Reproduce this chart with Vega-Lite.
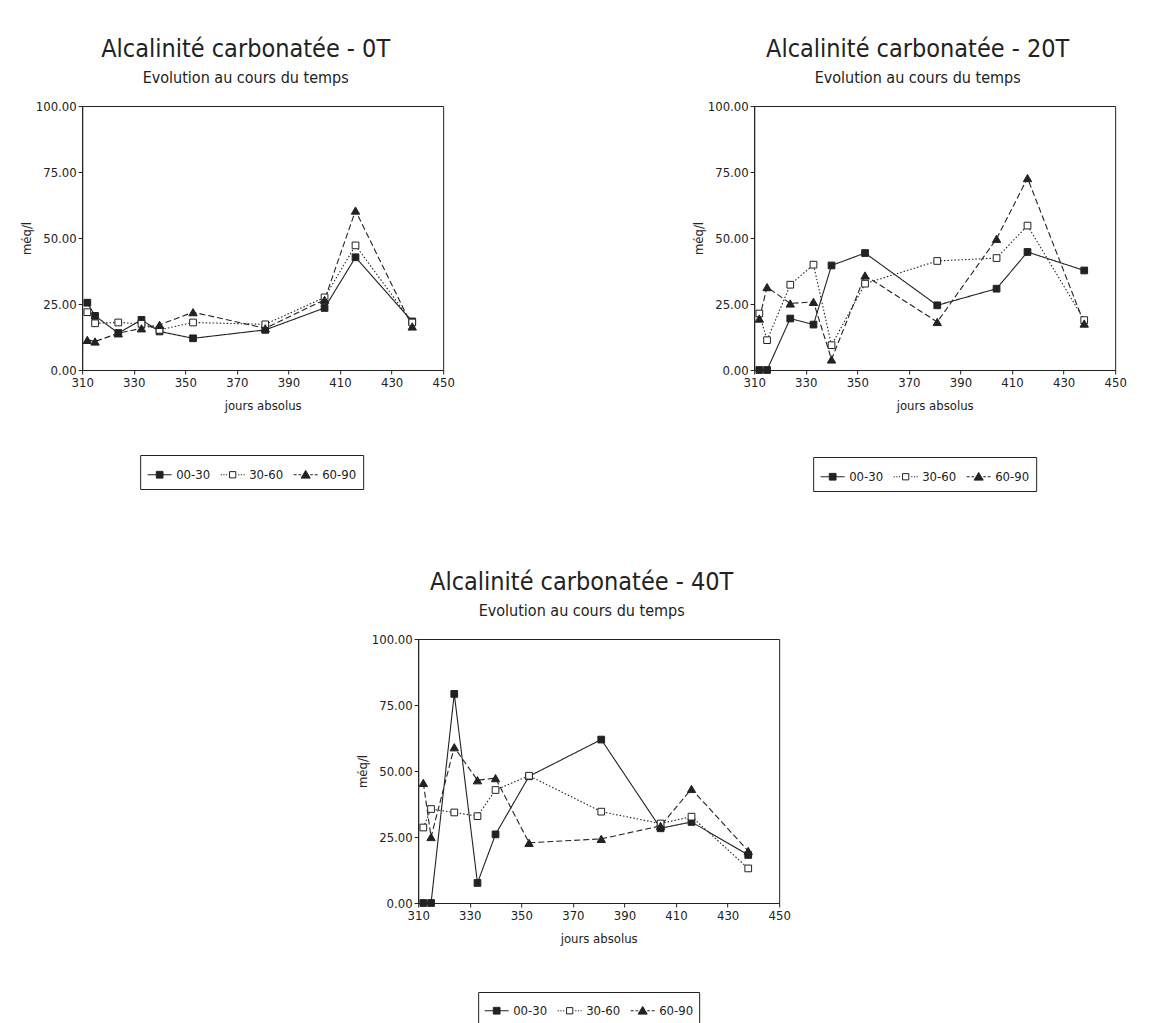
{
  "$schema": "https://vega.github.io/schema/vega-lite/v6.json",
  "background": "white",
  "padding": {"left": 19, "top": 36, "right": 5, "bottom": 0},
  "config": {
    "font": "DejaVu Sans Condensed, Liberation Sans, sans-serif",
    "view": {"stroke": "#222", "strokeWidth": 1},
    "axis": {"domainColor": "#222", "tickColor": "#222", "labelColor": "#222", "titleColor": "#222", "grid": false, "labelFontSize": 13, "titleFontSize": 13, "titleFontWeight": "normal", "tickSize": 4},
    "title": {"fontSize": 25, "fontWeight": "normal", "color": "#222", "subtitleFontSize": 16, "subtitleColor": "#222", "subtitlePadding": 8, "anchor": "middle", "offset": 14, "dx": -17},
    "legend": {"labelFontSize": 13, "labelColor": "#222", "symbolStrokeWidth": 1}
  },
  "data": {"values": [
    {"panel": "0T", "prof": "00-30", "jour": 312, "val": 25.5},
    {"panel": "0T", "prof": "00-30", "jour": 315, "val": 20.5},
    {"panel": "0T", "prof": "00-30", "jour": 324, "val": 14},
    {"panel": "0T", "prof": "00-30", "jour": 333, "val": 19},
    {"panel": "0T", "prof": "00-30", "jour": 340, "val": 14.6},
    {"panel": "0T", "prof": "00-30", "jour": 353, "val": 12},
    {"panel": "0T", "prof": "00-30", "jour": 381, "val": 15.2},
    {"panel": "0T", "prof": "00-30", "jour": 404, "val": 23.5},
    {"panel": "0T", "prof": "00-30", "jour": 416, "val": 42.7},
    {"panel": "0T", "prof": "00-30", "jour": 438, "val": 18.4},
    {"panel": "0T", "prof": "30-60", "jour": 312, "val": 21.9},
    {"panel": "0T", "prof": "30-60", "jour": 315, "val": 17.7},
    {"panel": "0T", "prof": "30-60", "jour": 324, "val": 18},
    {"panel": "0T", "prof": "30-60", "jour": 333, "val": 17.5},
    {"panel": "0T", "prof": "30-60", "jour": 340, "val": 15.2},
    {"panel": "0T", "prof": "30-60", "jour": 353, "val": 18},
    {"panel": "0T", "prof": "30-60", "jour": 381, "val": 17.3},
    {"panel": "0T", "prof": "30-60", "jour": 404, "val": 27.5},
    {"panel": "0T", "prof": "30-60", "jour": 416, "val": 47.2},
    {"panel": "0T", "prof": "30-60", "jour": 438, "val": 18},
    {"panel": "0T", "prof": "60-90", "jour": 312, "val": 11.4},
    {"panel": "0T", "prof": "60-90", "jour": 315, "val": 10.8},
    {"panel": "0T", "prof": "60-90", "jour": 324, "val": 13.9},
    {"panel": "0T", "prof": "60-90", "jour": 333, "val": 15.8},
    {"panel": "0T", "prof": "60-90", "jour": 340, "val": 17.1},
    {"panel": "0T", "prof": "60-90", "jour": 353, "val": 21.9},
    {"panel": "0T", "prof": "60-90", "jour": 381, "val": 15.8},
    {"panel": "0T", "prof": "60-90", "jour": 404, "val": 26.6},
    {"panel": "0T", "prof": "60-90", "jour": 416, "val": 60.4},
    {"panel": "0T", "prof": "60-90", "jour": 438, "val": 16.5},
    {"panel": "20T", "prof": "00-30", "jour": 312, "val": 0},
    {"panel": "20T", "prof": "00-30", "jour": 315, "val": 0},
    {"panel": "20T", "prof": "00-30", "jour": 324, "val": 19.5},
    {"panel": "20T", "prof": "00-30", "jour": 333, "val": 17.2},
    {"panel": "20T", "prof": "00-30", "jour": 340, "val": 39.6},
    {"panel": "20T", "prof": "00-30", "jour": 353, "val": 44.3},
    {"panel": "20T", "prof": "00-30", "jour": 381, "val": 24.5},
    {"panel": "20T", "prof": "00-30", "jour": 404, "val": 30.8},
    {"panel": "20T", "prof": "00-30", "jour": 416, "val": 44.7},
    {"panel": "20T", "prof": "00-30", "jour": 438, "val": 37.7},
    {"panel": "20T", "prof": "30-60", "jour": 312, "val": 21.4},
    {"panel": "20T", "prof": "30-60", "jour": 315, "val": 11.3},
    {"panel": "20T", "prof": "30-60", "jour": 324, "val": 32.3},
    {"panel": "20T", "prof": "30-60", "jour": 333, "val": 39.9},
    {"panel": "20T", "prof": "30-60", "jour": 340, "val": 9.4},
    {"panel": "20T", "prof": "30-60", "jour": 353, "val": 32.7},
    {"panel": "20T", "prof": "30-60", "jour": 381, "val": 41.3},
    {"panel": "20T", "prof": "30-60", "jour": 404, "val": 42.4},
    {"panel": "20T", "prof": "30-60", "jour": 416, "val": 54.7},
    {"panel": "20T", "prof": "30-60", "jour": 438, "val": 18.9},
    {"panel": "20T", "prof": "60-90", "jour": 312, "val": 19.5},
    {"panel": "20T", "prof": "60-90", "jour": 315, "val": 31.4},
    {"panel": "20T", "prof": "60-90", "jour": 324, "val": 25.2},
    {"panel": "20T", "prof": "60-90", "jour": 333, "val": 25.8},
    {"panel": "20T", "prof": "60-90", "jour": 340, "val": 4},
    {"panel": "20T", "prof": "60-90", "jour": 353, "val": 35.8},
    {"panel": "20T", "prof": "60-90", "jour": 381, "val": 18.2},
    {"panel": "20T", "prof": "60-90", "jour": 404, "val": 49.7},
    {"panel": "20T", "prof": "60-90", "jour": 416, "val": 72.7},
    {"panel": "20T", "prof": "60-90", "jour": 438, "val": 17.6},
    {"panel": "40T", "prof": "00-30", "jour": 312, "val": 0},
    {"panel": "40T", "prof": "00-30", "jour": 315, "val": 0},
    {"panel": "40T", "prof": "00-30", "jour": 324, "val": 79.2},
    {"panel": "40T", "prof": "00-30", "jour": 333, "val": 7.6},
    {"panel": "40T", "prof": "00-30", "jour": 340, "val": 26},
    {"panel": "40T", "prof": "00-30", "jour": 353, "val": 48},
    {"panel": "40T", "prof": "00-30", "jour": 381, "val": 61.9},
    {"panel": "40T", "prof": "00-30", "jour": 404, "val": 28.3},
    {"panel": "40T", "prof": "00-30", "jour": 416, "val": 30.7},
    {"panel": "40T", "prof": "00-30", "jour": 438, "val": 18.2},
    {"panel": "40T", "prof": "30-60", "jour": 312, "val": 28.6},
    {"panel": "40T", "prof": "30-60", "jour": 315, "val": 35.6},
    {"panel": "40T", "prof": "30-60", "jour": 324, "val": 34.3},
    {"panel": "40T", "prof": "30-60", "jour": 333, "val": 32.9},
    {"panel": "40T", "prof": "30-60", "jour": 340, "val": 42.8},
    {"panel": "40T", "prof": "30-60", "jour": 353, "val": 48.2},
    {"panel": "40T", "prof": "30-60", "jour": 381, "val": 34.6},
    {"panel": "40T", "prof": "30-60", "jour": 404, "val": 30.1},
    {"panel": "40T", "prof": "30-60", "jour": 416, "val": 32.7},
    {"panel": "40T", "prof": "30-60", "jour": 438, "val": 13.1},
    {"panel": "40T", "prof": "60-90", "jour": 312, "val": 45.5},
    {"panel": "40T", "prof": "60-90", "jour": 315, "val": 25},
    {"panel": "40T", "prof": "60-90", "jour": 324, "val": 59},
    {"panel": "40T", "prof": "60-90", "jour": 333, "val": 46.5},
    {"panel": "40T", "prof": "60-90", "jour": 340, "val": 47.3},
    {"panel": "40T", "prof": "60-90", "jour": 353, "val": 22.8},
    {"panel": "40T", "prof": "60-90", "jour": 381, "val": 24.3},
    {"panel": "40T", "prof": "60-90", "jour": 404, "val": 29.2},
    {"panel": "40T", "prof": "60-90", "jour": 416, "val": 43.2},
    {"panel": "40T", "prof": "60-90", "jour": 438, "val": 19.7}
  ]},
  "spacing": 77,
  "center": true,
  "resolve": {"scale": {"x": "independent", "y": "independent", "shape": "independent", "fill": "independent", "stroke": "independent"}, "legend": {"shape": "independent", "fill": "independent", "stroke": "independent"}},
  "vconcat": [
    {
      "hconcat": [
        {
          "title": {"text": "Alcalinité carbonatée - 0T", "subtitle": "Evolution au cours du temps"},
          "width": 361, "height": 264,
          "transform": [{"filter": "datum.panel === '0T'"}],
          "encoding": {
            "x": {"field": "jour", "type": "quantitative", "scale": {"domain": [310, 450], "nice": false, "zero": false}, "axis": {"values": [310, 330, 350, 370, 390, 410, 430, 450], "title": "jours absolus", "titlePadding": 10, "labelFlush": false}},
            "y": {"field": "val", "type": "quantitative", "scale": {"domain": [0, 100], "nice": false}, "axis": {"values": [0, 25, 50, 75, 100], "format": ".2f", "title": "méq/l", "titlePadding": 2}}
          },
          "layer": [
            {"mark": {"type": "line", "color": "#222", "strokeWidth": 1.1},
             "encoding": {"detail": {"field": "prof", "type": "nominal"},
               "strokeDash": {"condition": [{"test": "datum.prof === '30-60'", "value": [1.5, 2]}, {"test": "datum.prof === '60-90'", "value": [6, 3]}], "value": [1, 0]}}},
            {"mark": {"type": "point", "stroke": "#222", "strokeWidth": 1, "opacity": 1},
             "encoding": {
               "shape": {"condition": {"test": "datum.prof === '60-90'", "value": "triangle-up"}, "value": "square"},
               "fill": {"condition": {"test": "datum.prof === '30-60'", "value": "white"}, "value": "#222"},
               "size": {"condition": {"test": "datum.prof === '60-90'", "value": 70}, "value": 45}
             }},
            {"transform": [{"filter": "false"}],
             "mark": {"type": "point", "strokeWidth": 1, "opacity": 1, "filled": true},
             "encoding": {
               "shape": {"field": "prof", "type": "nominal", "scale": {"domain": ["00-30", "30-60", "60-90"], "range": ["M-1,0H-0.28M0.28,0H1M-0.28,-0.28H0.28V0.28H-0.28Z", "M-1,0H-0.9M-0.78,0H-0.68M-0.56,0H-0.46M-0.26,-0.26H0.26V0.26H-0.26ZM0.46,0H0.56M0.68,0H0.78M0.9,0H1", "M-1,0H-0.75M-0.6,0H-0.38M0,-0.36L0.38,0.28H-0.38ZM0.38,0H0.6M0.75,0H1"]},
                 "legend": {"title": null, "orient": "none", "legendX": 58, "legendY": 349, "direction": "horizontal", "strokeColor": "#222", "padding": 7, "fillColor": "white", "columnPadding": 8, "labelOffset": 4, "symbolSize": 576}},
               "fill": {"field": "prof", "type": "nominal", "scale": {"domain": ["00-30", "30-60", "60-90"], "range": ["#222", "white", "#222"]},
                 "legend": {"title": null, "orient": "none", "legendX": 58, "legendY": 349, "direction": "horizontal", "strokeColor": "#222", "padding": 7, "fillColor": "white", "columnPadding": 8, "labelOffset": 4, "symbolSize": 576}},
               "stroke": {"field": "prof", "type": "nominal", "scale": {"domain": ["00-30", "30-60", "60-90"], "range": ["#222", "#222", "#222"]},
                 "legend": {"title": null, "orient": "none", "legendX": 58, "legendY": 349, "direction": "horizontal", "strokeColor": "#222", "padding": 7, "fillColor": "white", "columnPadding": 8, "labelOffset": 4, "symbolSize": 576}}
             }}
          ]
        },
        {
          "title": {"text": "Alcalinité carbonatée - 20T", "subtitle": "Evolution au cours du temps"},
          "width": 361, "height": 264,
          "transform": [{"filter": "datum.panel === '20T'"}],
          "encoding": {
            "x": {"field": "jour", "type": "quantitative", "scale": {"domain": [310, 450], "nice": false, "zero": false}, "axis": {"values": [310, 330, 350, 370, 390, 410, 430, 450], "title": "jours absolus", "titlePadding": 10, "labelFlush": false}},
            "y": {"field": "val", "type": "quantitative", "scale": {"domain": [0, 100], "nice": false}, "axis": {"values": [0, 25, 50, 75, 100], "format": ".2f", "title": "méq/l", "titlePadding": 2}}
          },
          "layer": [
            {"mark": {"type": "line", "color": "#222", "strokeWidth": 1.1},
             "encoding": {"detail": {"field": "prof", "type": "nominal"},
               "strokeDash": {"condition": [{"test": "datum.prof === '30-60'", "value": [1.5, 2]}, {"test": "datum.prof === '60-90'", "value": [6, 3]}], "value": [1, 0]}}},
            {"mark": {"type": "point", "stroke": "#222", "strokeWidth": 1, "opacity": 1},
             "encoding": {
               "shape": {"condition": {"test": "datum.prof === '60-90'", "value": "triangle-up"}, "value": "square"},
               "fill": {"condition": {"test": "datum.prof === '30-60'", "value": "white"}, "value": "#222"},
               "size": {"condition": {"test": "datum.prof === '60-90'", "value": 70}, "value": 45}
             }},
            {"transform": [{"filter": "false"}],
             "mark": {"type": "point", "strokeWidth": 1, "opacity": 1, "filled": true},
             "encoding": {
               "shape": {"field": "prof", "type": "nominal", "scale": {"domain": ["00-30", "30-60", "60-90"], "range": ["M-1,0H-0.28M0.28,0H1M-0.28,-0.28H0.28V0.28H-0.28Z", "M-1,0H-0.9M-0.78,0H-0.68M-0.56,0H-0.46M-0.26,-0.26H0.26V0.26H-0.26ZM0.46,0H0.56M0.68,0H0.78M0.9,0H1", "M-1,0H-0.75M-0.6,0H-0.38M0,-0.36L0.38,0.28H-0.38ZM0.38,0H0.6M0.75,0H1"]},
                 "legend": {"title": null, "orient": "none", "legendX": 59, "legendY": 351, "direction": "horizontal", "strokeColor": "#222", "padding": 7, "fillColor": "white", "columnPadding": 8, "labelOffset": 4, "symbolSize": 576}},
               "fill": {"field": "prof", "type": "nominal", "scale": {"domain": ["00-30", "30-60", "60-90"], "range": ["#222", "white", "#222"]},
                 "legend": {"title": null, "orient": "none", "legendX": 59, "legendY": 351, "direction": "horizontal", "strokeColor": "#222", "padding": 7, "fillColor": "white", "columnPadding": 8, "labelOffset": 4, "symbolSize": 576}},
               "stroke": {"field": "prof", "type": "nominal", "scale": {"domain": ["00-30", "30-60", "60-90"], "range": ["#222", "#222", "#222"]},
                 "legend": {"title": null, "orient": "none", "legendX": 59, "legendY": 351, "direction": "horizontal", "strokeColor": "#222", "padding": 7, "fillColor": "white", "columnPadding": 8, "labelOffset": 4, "symbolSize": 576}}
             }}
          ]
        }
      ],
      "spacing": 236,
      "resolve": {"scale": {"x": "independent", "y": "independent", "shape": "independent", "fill": "independent", "stroke": "independent"}, "legend": {"shape": "independent", "fill": "independent", "stroke": "independent"}}
    },
    {
      "title": {"text": "Alcalinité carbonatée - 40T", "subtitle": "Evolution au cours du temps"},
      "width": 361, "height": 264,
      "transform": [{"filter": "datum.panel === '40T'"}],
      "encoding": {
        "x": {"field": "jour", "type": "quantitative", "scale": {"domain": [310, 450], "nice": false, "zero": false}, "axis": {"values": [310, 330, 350, 370, 390, 410, 430, 450], "title": "jours absolus", "titlePadding": 10, "labelFlush": false}},
        "y": {"field": "val", "type": "quantitative", "scale": {"domain": [0, 100], "nice": false}, "axis": {"values": [0, 25, 50, 75, 100], "format": ".2f", "title": "méq/l", "titlePadding": 2}}
      },
      "layer": [
        {"mark": {"type": "line", "color": "#222", "strokeWidth": 1.1},
         "encoding": {"detail": {"field": "prof", "type": "nominal"},
           "strokeDash": {"condition": [{"test": "datum.prof === '30-60'", "value": [1.5, 2]}, {"test": "datum.prof === '60-90'", "value": [6, 3]}], "value": [1, 0]}}},
        {"mark": {"type": "point", "stroke": "#222", "strokeWidth": 1, "opacity": 1},
         "encoding": {
           "shape": {"condition": {"test": "datum.prof === '60-90'", "value": "triangle-up"}, "value": "square"},
           "fill": {"condition": {"test": "datum.prof === '30-60'", "value": "white"}, "value": "#222"},
           "size": {"condition": {"test": "datum.prof === '60-90'", "value": 70}, "value": 45}
         }},
        {"transform": [{"filter": "false"}],
         "mark": {"type": "point", "strokeWidth": 1, "opacity": 1, "filled": true},
         "encoding": {
           "shape": {"field": "prof", "type": "nominal", "scale": {"domain": ["00-30", "30-60", "60-90"], "range": ["M-1,0H-0.28M0.28,0H1M-0.28,-0.28H0.28V0.28H-0.28Z", "M-1,0H-0.9M-0.78,0H-0.68M-0.56,0H-0.46M-0.26,-0.26H0.26V0.26H-0.26ZM0.46,0H0.56M0.68,0H0.78M0.9,0H1", "M-1,0H-0.75M-0.6,0H-0.38M0,-0.36L0.38,0.28H-0.38ZM0.38,0H0.6M0.75,0H1"]},
             "legend": {"title": null, "orient": "none", "legendX": 60, "legendY": 353, "direction": "horizontal", "strokeColor": "#222", "padding": 6, "fillColor": "white", "columnPadding": 8, "labelOffset": 4, "symbolSize": 576}},
           "fill": {"field": "prof", "type": "nominal", "scale": {"domain": ["00-30", "30-60", "60-90"], "range": ["#222", "white", "#222"]},
             "legend": {"title": null, "orient": "none", "legendX": 60, "legendY": 353, "direction": "horizontal", "strokeColor": "#222", "padding": 6, "fillColor": "white", "columnPadding": 8, "labelOffset": 4, "symbolSize": 576}},
           "stroke": {"field": "prof", "type": "nominal", "scale": {"domain": ["00-30", "30-60", "60-90"], "range": ["#222", "#222", "#222"]},
             "legend": {"title": null, "orient": "none", "legendX": 60, "legendY": 353, "direction": "horizontal", "strokeColor": "#222", "padding": 6, "fillColor": "white", "columnPadding": 8, "labelOffset": 4, "symbolSize": 576}}
         }}
      ]
    }
  ]
}
